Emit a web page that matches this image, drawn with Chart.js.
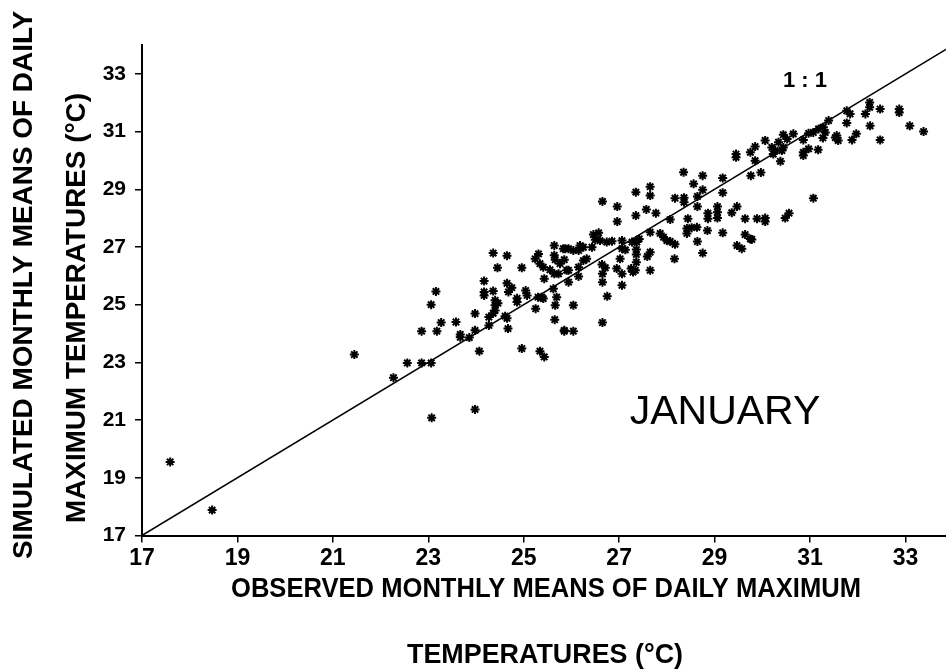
<!DOCTYPE html>
<html>
<head>
<meta charset="utf-8">
<script src="https://cdn.jsdelivr.net/npm/chart.js@4/dist/chart.umd.min.js"></script>
<style>
  html, body { margin: 0; padding: 0; background: #fff; }
  #wrap { width: 946px; height: 672px; position: relative; }
</style>
</head>
<body>
<div id="wrap"><canvas id="c" width="946" height="672"></canvas></div>
<script>
// Observed (x) and simulated (y) monthly means of daily maximum temperature, January
const observed = [
  17.59,18.47,21.45,22.27,22.56,22.86,23.06,22.86,23.18,23.27,23.06,23.16,23.07,23.98,23.58,23.67,23.67,23.86,23.98,23.98,
  24.07,24.17,24.17,24.17,24.36,24.27,24.27,24.40,24.40,24.40,24.46,24.36,24.61,24.65,24.67,24.36,24.65,24.45,24.96,24.65,
  24.75,24.68,24.86,24.86,25.04,25.07,24.96,25.34,25.43,25.25,25.30,25.38,25.41,25.43,25.34,25.41,25.24,25.31,25.64,25.64,
  25.66,25.64,25.73,25.55,25.62,25.69,25.66,25.65,25.85,25.87,25.76,25.90,28.35,28.75,29.17,29.76,28.56,28.75,29.17,27.65,
  27.65,27.35,26.65,28.17,28.36,28.36,28.64,28.64,26.96,27.35,27.57,27.77,26.96,28.07,28.44,28.86,28.86,29.06,29.06,29.06,
  29.47,29.36,29.64,29.89,28.42,28.42,28.52,28.63,28.85,29.17,29.64,29.75,28.64,28.75,29.47,29.57,27.65,27.86,27.93,28.00,
  28.07,28.17,28.16,27.65,27.59,27.65,27.42,27.37,27.27,27.36,27.36,27.36,27.25,27.34,27.29,27.06,27.06,27.13,27.02,26.95,
  27.06,27.06,26.85,26.74,26.60,26.50,26.46,26.57,26.43,26.64,26.71,26.65,26.65,26.75,26.65,26.25,26.15,26.04,25.94,25.83,
  26.18,26.32,26.25,26.15,26.15,25.94,25.94,25.85,26.04,25.85,26.04,32.25,32.25,32.47,32.87,32.87,32.16,31.77,31.84,31.77,
  32.26,33.09,33.38,32.47,31.97,31.88,31.56,31.53,31.59,31.39,31.18,31.28,31.07,31.32,31.27,30.86,30.65,30.44,30.06,29.85,
  29.75,30.20,30.27,30.34,30.44,30.23,30.41,30.52,30.97,30.86,30.86,31.17,30.38,29.85,29.97,31.07,30.06,30.06,30.48,30.56,
  29.78,29.45,29.45,30.97
];
const simulated = [
  19.55,17.88,23.27,22.47,22.98,22.98,22.98,24.08,24.08,24.38,25.00,25.46,21.08,21.37,24.40,23.97,23.87,23.86,24.11,24.69,
  23.39,25.82,25.44,25.32,25.47,24.57,24.28,25.15,24.98,24.80,25.05,24.70,24.60,24.53,24.17,26.79,26.70,26.28,26.28,25.74,
  25.59,25.44,25.22,25.09,25.49,25.32,23.48,23.39,23.19,24.86,25.26,25.26,25.21,25.90,26.42,26.30,26.59,26.76,27.05,26.71,
  26.56,26.07,26.07,26.21,25.55,25.26,24.98,24.48,24.11,26.94,26.42,26.19,29.59,29.47,29.39,29.47,29.19,28.98,28.88,29.09,
  28.78,28.90,28.58,28.69,28.71,28.55,28.75,28.40,28.40,28.09,28.30,28.17,27.88,27.95,27.98,28.17,27.98,28.40,28.20,28.00,
  28.40,28.19,27.98,27.98,27.64,27.47,27.67,27.68,27.57,27.49,27.43,27.28,27.19,26.79,27.05,26.94,27.51,27.47,27.34,27.22,
  27.19,27.09,26.59,26.82,26.67,26.19,27.28,27.17,27.17,26.91,26.74,26.47,26.25,26.19,26.13,27.22,26.94,26.90,26.59,26.25,
  26.07,25.67,27.20,27.17,27.22,27.25,27.43,27.49,26.99,26.39,26.28,26.07,25.78,25.29,24.38,26.99,26.88,26.88,26.94,26.94,
  27.05,26.59,26.53,26.30,25.98,26.19,25.78,26.56,24.98,24.08,24.08,32.01,31.84,31.78,31.78,31.66,31.61,31.72,31.61,31.30,
  31.20,31.20,31.00,30.71,30.92,30.71,30.86,30.79,30.69,31.38,31.09,31.15,30.97,30.97,30.78,30.71,30.92,30.89,30.69,30.48,
  30.28,30.45,30.34,30.63,30.45,30.22,30.34,30.74,30.40,30.28,30.17,30.37,29.97,29.99,29.58,28.69,28.00,27.88,28.00,28.17,
  27.26,30.22,30.11,30.94
];
const oneToOneX = [17, 33.85];
const oneToOneY = [17, 33.85];
const xTicks = [17, 19, 21, 23, 25, 27, 29, 31, 33];
const yTicks = [17, 19, 21, 23, 25, 27, 29, 31, 33];
const xTitle = ['OBSERVED MONTHLY MEANS OF DAILY MAXIMUM', 'TEMPERATURES (\u00B0C)'];
const yTitle = ['SIMULATED MONTHLY MEANS OF DAILY', 'MAXIMUM TEMPERATURES (\u00B0C)'];
const ratioLabel = '1 : 1';
const monthLabel = 'JANUARY';

const FONT = '"Liberation Sans", Arial, Helvetica, sans-serif';

function fitText(ctx, text, cx, cy, font, width, angle) {
  ctx.save();
  ctx.font = font;
  const w = ctx.measureText(text).width;
  ctx.translate(cx, cy);
  ctx.rotate(angle);
  ctx.scale(width / w, 1);
  ctx.textAlign = 'center';
  ctx.textBaseline = 'middle';
  ctx.fillStyle = '#000';
  ctx.fillText(text, 0, 0);
  ctx.restore();
}

const textPlugin = {
  id: 'texts',
  afterDraw(chart) {
    const ctx = chart.ctx;
    const tf = 'bold 28px ' + FONT;
    fitText(ctx, xTitle[0], 546, 589, tf, 630, 0);
    fitText(ctx, xTitle[1], 545, 655, tf, 276, 0);
    fitText(ctx, yTitle[0], 24, 285, tf, 548, -Math.PI / 2);
    fitText(ctx, yTitle[1], 77, 308, tf, 430, -Math.PI / 2);
    ctx.save();
    ctx.fillStyle = '#000';
    ctx.textAlign = 'center';
    ctx.textBaseline = 'middle';
    ctx.font = 'bold 22px ' + FONT;
    ctx.fillText(ratioLabel, 805, 81);
    ctx.font = '41px ' + FONT;
    ctx.fillText(monthLabel, 725, 413);
    ctx.restore();
  }
};

new Chart(document.getElementById('c'), {
  type: 'scatter',
  data: {
    datasets: [
      {
        type: 'line',
        data: oneToOneX.map((x, i) => ({ x: x, y: oneToOneY[i] })),
        borderColor: '#000',
        borderWidth: 1.5,
        pointRadius: 0,
        fill: false,
        order: 2
      },
      {
        data: observed.map((x, i) => ({ x: x, y: simulated[i] })),
        pointStyle: 'star',
        radius: 4.5,
        borderWidth: 2,
        borderColor: '#000',
        backgroundColor: '#000',
        order: 1
      }
    ]
  },
  options: {
    responsive: false,
    animation: false,
    devicePixelRatio: 1,
    layout: { autoPadding: false, padding: { top: 45, right: 0, left: 0, bottom: 0 } },
    plugins: { legend: { display: false }, tooltip: { enabled: false } },
    scales: {
      x: {
        type: 'linear', min: 17, max: 33.85,
        afterBuildTicks: s => { s.ticks = xTicks.map(v => ({ value: v })); },
        afterFit: s => { s.height = 136.5; },
        border: { display: true, color: '#000', width: 2 },
        grid: { drawOnChartArea: false, drawTicks: true, tickLength: 7, color: '#000', lineWidth: 1.5 },
        ticks: { color: '#000', padding: 2, maxRotation: 0, autoSkip: false, font: { family: FONT, size: 23, weight: 'bold' } }
      },
      y: {
        type: 'linear', min: 17, max: 34,
        afterBuildTicks: s => { s.ticks = yTicks.map(v => ({ value: v })); },
        afterFit: s => { s.width = 142; },
        border: { display: true, color: '#000', width: 2 },
        grid: { drawOnChartArea: false, drawTicks: true, tickLength: 7, color: '#000', lineWidth: 1.5 },
        ticks: { color: '#000', padding: 9, autoSkip: false, font: { family: FONT, size: 21, weight: 'bold' } }
      }
    }
  },
  plugins: [textPlugin]
});
</script>
</body>
</html>
